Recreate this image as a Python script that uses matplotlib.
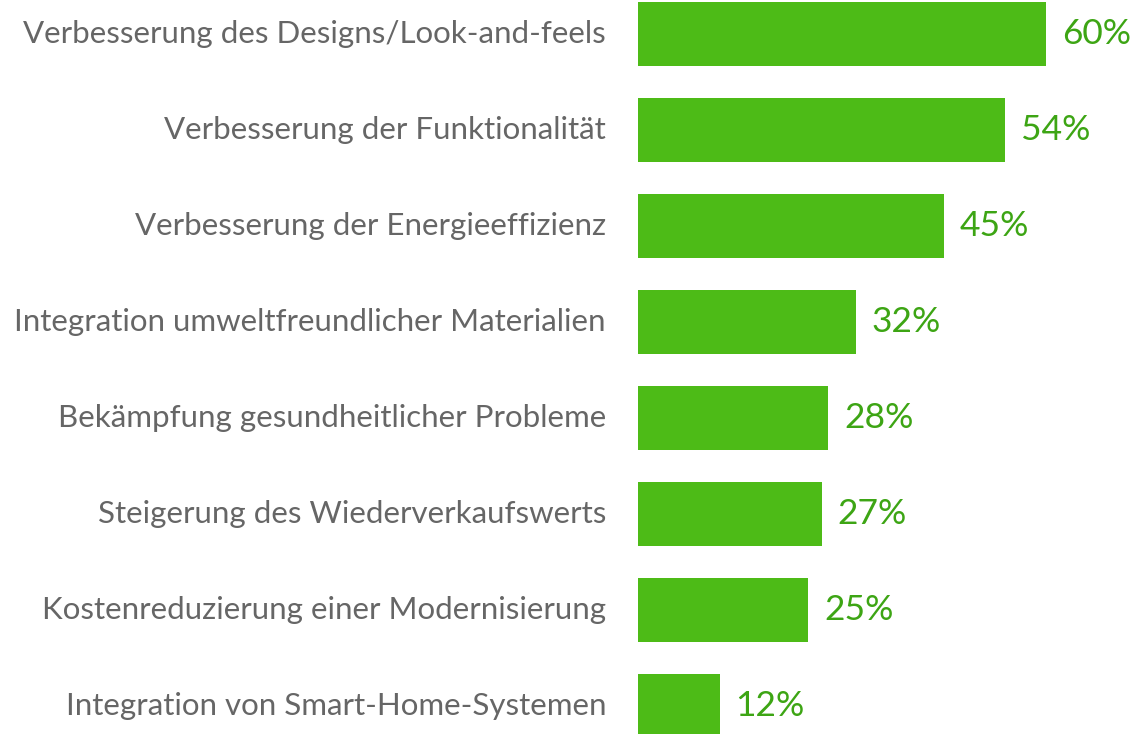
import matplotlib
matplotlib.use("Agg")
import matplotlib.pyplot as plt

categories = [
    "Verbesserung des Designs/Look-and-feels",
    "Verbesserung der Funktionalität",
    "Verbesserung der Energieeffizienz",
    "Integration umweltfreundlicher Materialien",
    "Bekämpfung gesundheitlicher Probleme",
    "Steigerung des Wiederverkaufswerts",
    "Kostenreduzierung einer Modernisierung",
    "Integration von Smart-Home-Systemen",
]
values = [60, 54, 45, 32, 28, 27, 25, 12]

BAR = "#4dbb17"
VAL = "#3da514"
LAB = "#666666"
FONT = "Lato"

W, H = 1135, 734
fig = plt.figure(figsize=(W / 100, H / 100), dpi=100)
left = 638 / W
ax = fig.add_axes([left, 0, 1 - left, 1])

px_per = 6.8
ax.set_xlim(0, (W - 638) / px_per)
ax.set_ylim((H - 34) / 96, -34 / 96)

ys = list(range(len(values)))
ax.barh(ys, values, height=64 / 96, color=BAR, edgecolor="none")

for y, v, c in zip(ys, values, categories):
    ax.text(v + 16 / px_per, y, f"{v}%", va="center", ha="left",
            color=VAL, fontsize=25.5, family=FONT)
    ax.text(-32 / px_per, y, c, va="center", ha="right",
            color=LAB, fontsize=22.5, family=FONT, clip_on=False)

ax.axis("off")
fig.savefig("out.png", dpi=100)
